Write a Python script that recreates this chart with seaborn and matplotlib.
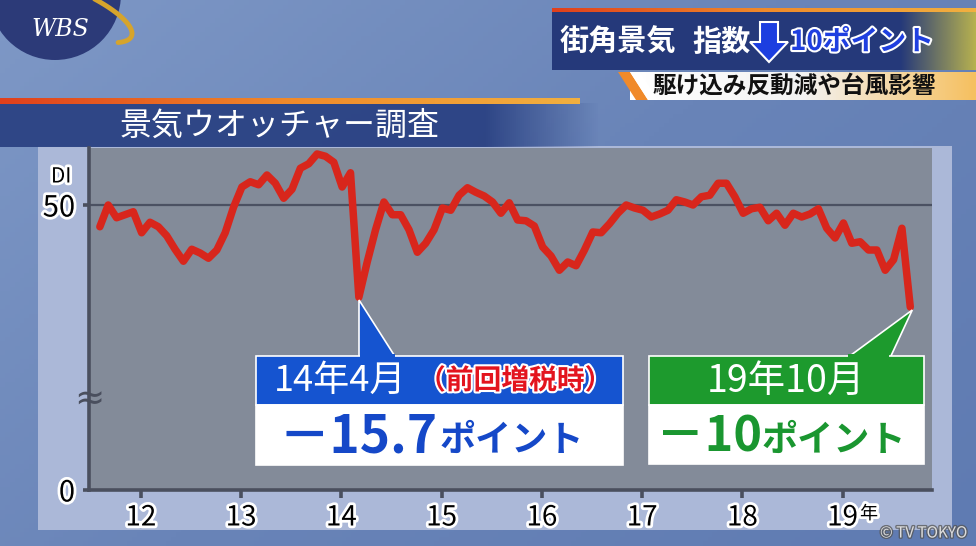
import numpy as np
import pandas as pd
import seaborn as sns
import matplotlib.pyplot as plt
import matplotlib.patheffects as pe
from matplotlib.patches import Rectangle, Polygon, Circle
from matplotlib.colors import LinearSegmentedColormap, to_rgba
from matplotlib.transforms import blended_transform_factory

# 景気ウオッチャー調査 現状判断DI (2011年9月〜2019年10月, 月次)
di_2011 = [47.1, 50.0, 48.3, 48.7]
di_2012 = [49.1, 46.3, 47.7, 47.1, 45.9, 44.1, 42.5, 44.1, 43.6, 42.9, 44.0, 46.3]
di_2013 = [49.7, 52.4, 53.1, 52.7, 54.0, 52.9, 50.9, 52.1, 54.9, 55.5, 56.8, 56.5]
di_2014 = [55.7, 52.4, 54.3, 37.7, 42.4, 46.7, 50.4, 48.7, 48.7, 46.7, 43.7, 44.9]
di_2015 = [46.7, 49.6, 49.3, 51.3, 52.3, 51.7, 51.2, 50.4, 48.9, 50.3, 48.0, 47.9]
di_2016 = [47.2, 44.4, 43.2, 41.3, 42.4, 41.9, 44.0, 46.4, 46.3, 47.5, 48.9, 50.0]
di_2017 = [49.6, 49.3, 48.4, 48.8, 49.3, 50.7, 50.4, 50.0, 51.1, 51.3, 52.9, 52.9]
di_2018 = [51.1, 48.9, 49.5, 49.7, 47.9, 48.9, 47.3, 48.9, 48.4, 48.8, 49.5, 46.9]
di_2019 = [45.6, 47.6, 44.9, 45.1, 44.0, 44.0, 41.3, 42.7, 46.9, 36.4]

year_labels = ["12", "13", "14", "15", "16", "17", "18", "19"]
title = "景気ウオッチャー調査"
head_1 = "街角景気"
head_2 = "指数"
head_3 = "10ポイント"
sub_head = "駆け込み反動減や台風影響"
note1_top, note1_tag, note1_val = "14年4月", "（前回増税時）", "－15.7"
note2_top, note2_val = "19年10月", "－10"
unit = "ポイント"

di = di_2011 + di_2012 + di_2013 + di_2014 + di_2015 + di_2016 + di_2017 + di_2018 + di_2019
months = pd.period_range("2011-09", "2019-10", freq="M")
df = pd.DataFrame({"m": np.arange(len(months)), "di": di})
apr14 = list(months).index(pd.Period("2014-04", "M"))
oct19 = len(months) - 1
year_pos = [i + 0.9 for i, p in enumerate(months) if p.month == 1]

sns.set_style("white")
plt.rcParams["font.family"] = ["Noto Sans CJK JP", "DejaVu Sans"]

W, H = 976, 546
fig = plt.figure(figsize=(W / 100, H / 100), dpi=100)

# background (pixel coords)
bg = fig.add_axes([0, 0, 1, 1])
bg.set_xlim(0, W)
bg.set_ylim(H, 0)
bg.axis("off")
gx, gy = np.meshgrid(np.linspace(0, 1, 200), np.linspace(0, 1, 120))
bg_cmap = LinearSegmentedColormap.from_list("bg", ["#7e98c6", "#6984b8", "#5f7bb2"])
bg.imshow(0.6 * gx + 0.4 * gy, cmap=bg_cmap, extent=(0, W, H, 0), aspect="auto", zorder=0)

# chart panel
bg.add_patch(Rectangle((38, 146), 914, 384, fc="#abb8d8", ec="none", zorder=1))

# title band + orange line
band = np.zeros((1, 300, 4))
band[..., :3] = to_rgba("#2b4283")[:3]
band[..., 3] = np.clip((1 - np.linspace(0, 1, 300)) * 5, 0, 0.95)
bg.imshow(band, extent=(0, 600, 147, 103), aspect="auto", zorder=2)
line_cmap = LinearSegmentedColormap.from_list("ln", ["#e0401c", "#f08a2a", "#f2b040"])
bg.imshow(np.linspace(0, 1, 300)[None, :], cmap=line_cmap, extent=(0, 580, 104, 98),
          aspect="auto", zorder=3)
bg.text(120, 126, title, color="white", fontsize=23, va="center", ha="left", zorder=4)

# header
bg.add_patch(Rectangle((552, 10), 424, 60, fc="#25397a", ec="none", zorder=2))
glow = np.zeros((1, 100, 4))
glow[..., :3] = to_rgba("#c9c04a")[:3]
glow[..., 3] = np.linspace(0, 0.9, 100)
bg.imshow(glow, extent=(900, 976, 70, 10), aspect="auto", zorder=3)
bg.imshow(np.linspace(0, 1, 300)[None, :], cmap=line_cmap, extent=(552, 976, 12, 8),
          aspect="auto", zorder=3)
bg.text(560, 42, head_1, color="white", fontsize=21, fontweight="bold", va="center", zorder=4)
bg.text(692, 42, head_2, color="white", fontsize=21, fontweight="bold", va="center", zorder=4)
bg.add_patch(Polygon([(760, 22), (778, 22), (778, 42), (788, 42), (769, 62), (750, 42), (760, 42)],
                     closed=True, fc="#1c3ee0", ec="white", lw=1.5, zorder=4))
bg.text(790, 42, head_3, color="#1f3fe0", fontsize=20, fontweight="bold", va="center", zorder=4,
        path_effects=[pe.withStroke(linewidth=3, foreground="white")])
sub_cols = LinearSegmentedColormap.from_list("s", ["#ffffff", "#f3f3f3", "#f6c060"])(np.linspace(0, 1, 200))
sub_grad = sub_cols[None, :, :]
bg.imshow(sub_grad, extent=(630, 976, 100, 72), aspect="auto", zorder=3)
bg.add_patch(Polygon([(618, 72), (630, 72), (648, 100), (636, 100)], fc="#f08a2a", ec="none", zorder=4))
bg.add_patch(Polygon([(630, 72), (640, 72), (658, 100), (648, 100)], fc="white", ec="none", zorder=4))
bg.text(794, 86, sub_head, color="#111111", fontsize=17, fontweight="bold", va="center",
        ha="center", zorder=5)

# WBS logo: navy disc with a gold ring on its right side
bg.add_patch(Circle((55, -6), 66, fc="#2c3a78", ec="none", zorder=5))
t = np.radians(np.linspace(-110, 30, 60))
phi = np.radians(22)
ring_x = 62 + 75 * np.cos(t) * np.cos(phi) - 22 * np.sin(t) * np.sin(phi)
ring_y = 8 + 75 * np.cos(t) * np.sin(phi) + 22 * np.sin(t) * np.cos(phi)
bg.plot(ring_x, ring_y, color="#d6a42c", lw=3.5, solid_capstyle="round", zorder=6)
bg.text(60, 30, "WBS", color="white", fontsize=17, family="DejaVu Serif", style="italic",
        ha="center", va="center", zorder=7)

# main chart
ax = fig.add_axes([89 / W, 1 - 490 / H, (932 - 89) / W, (490 - 148) / H], zorder=3)
ax.set_facecolor("#838b99")
ax.axhline(50, color="#4b5162", lw=1.6, zorder=1)
sns.lineplot(data=df, x="m", y="di", ax=ax, color="#d8261c", linewidth=5.4, zorder=3)
ax.set_xlim(-1.3, 99.6)
ax.set_ylim(12.0, 57.6)
ax.set_xlabel("")
ax.set_ylabel("")
for s in ["top", "right"]:
    ax.spines[s].set_visible(False)
for s in ["left", "bottom"]:
    ax.spines[s].set_color("#4a4f5e")
    ax.spines[s].set_linewidth(2.6)
outline = [pe.withStroke(linewidth=4, foreground="white")]
ax.set_xticks(year_pos)
ax.set_xticklabels(year_labels, fontsize=20, color="black", path_effects=outline)
ax.set_yticks([12.0, 50])
ax.set_yticklabels(["0", "50"], fontsize=21, color="black", path_effects=outline)
ax.tick_params(axis="x", length=6, width=2.6, color="#4a4f5e", pad=3, direction="out")
ax.tick_params(axis="y", length=4, width=2.6, color="#4a4f5e", pad=6, direction="out")
ax.tick_params(bottom=True, left=True)
ax.grid(False)
yax = blended_transform_factory(ax.transAxes, ax.transData)
ax.text(0, 24, "≈", transform=yax, ha="center", va="center", fontsize=26, color="#4a4f5e",
        family="DejaVu Sans", clip_on=False)
ax.text(-0.033, 53.8, "DI", transform=yax, ha="center", va="center", fontsize=15,
        color="black", path_effects=outline, clip_on=False)

# overlay for callouts
ov = fig.add_axes([0, 0, 1, 1], zorder=6)
ov.set_xlim(0, W)
ov.set_ylim(H, 0)
ov.axis("off")
ov.patch.set_alpha(0)


def to_px(x, y):
    return ov.transData.inverted().transform(ax.transData.transform((x, y)))


tx, ty = to_px(apr14, di[apr14])
ov.add_patch(Polygon([(tx, ty + 3), (tx, 358), (tx + 37, 358)], fc="#1554d0", ec="white", lw=1.2))
ov.add_patch(Rectangle((256, 356), 367, 49, fc="#1554d0", ec="white", lw=1.2))
ov.add_patch(Rectangle((256, 405), 367, 60, fc="white", ec="white", lw=1.2))
ov.add_patch(Rectangle((tx + 1, 354), 35, 5, fc="#1554d0", ec="none"))
ov.text(274, 381, note1_top, color="white", fontsize=26, va="center")
ov.text(418, 381, note1_tag, color="#e3141e", fontsize=20, fontweight="bold", va="center",
        path_effects=[pe.withStroke(linewidth=3, foreground="white")])
ov.text(278, 437, note1_val, color="#1548c8", fontsize=37, fontweight="bold", va="center")
ov.text(440, 440, unit, color="#1548c8", fontsize=26, fontweight="bold", va="center")

tx2, ty2 = to_px(oct19, di[oct19])
ov.add_patch(Polygon([(tx2 + 2, ty2 + 3), (847, 358), (890, 358)], fc="#1d9a2d", ec="white", lw=1.2))
ov.add_patch(Rectangle((649, 356), 275, 49, fc="#1d9a2d", ec="white", lw=1.2))
ov.add_patch(Rectangle((649, 405), 275, 59, fc="white", ec="white", lw=1.2))
ov.add_patch(Rectangle((848, 354), 41, 5, fc="#1d9a2d", ec="none"))
ov.text(786, 381, note2_top, color="white", fontsize=27, va="center", ha="center")
ov.text(656, 437, note2_val, color="#1a9630", fontsize=35, fontweight="bold", va="center")
ov.text(762, 440, unit, color="#1a9630", fontsize=26, fontweight="bold", va="center")

ov.text(869, 514, "年", color="black", fontsize=13, va="center", ha="center", path_effects=outline)
ov.text(880, 533, "© TV TOKYO", color="white", alpha=0.75, fontsize=11, va="center", ha="left",
        path_effects=[pe.withStroke(linewidth=2, foreground="#555555")])

fig.savefig("out.png", dpi=100)
